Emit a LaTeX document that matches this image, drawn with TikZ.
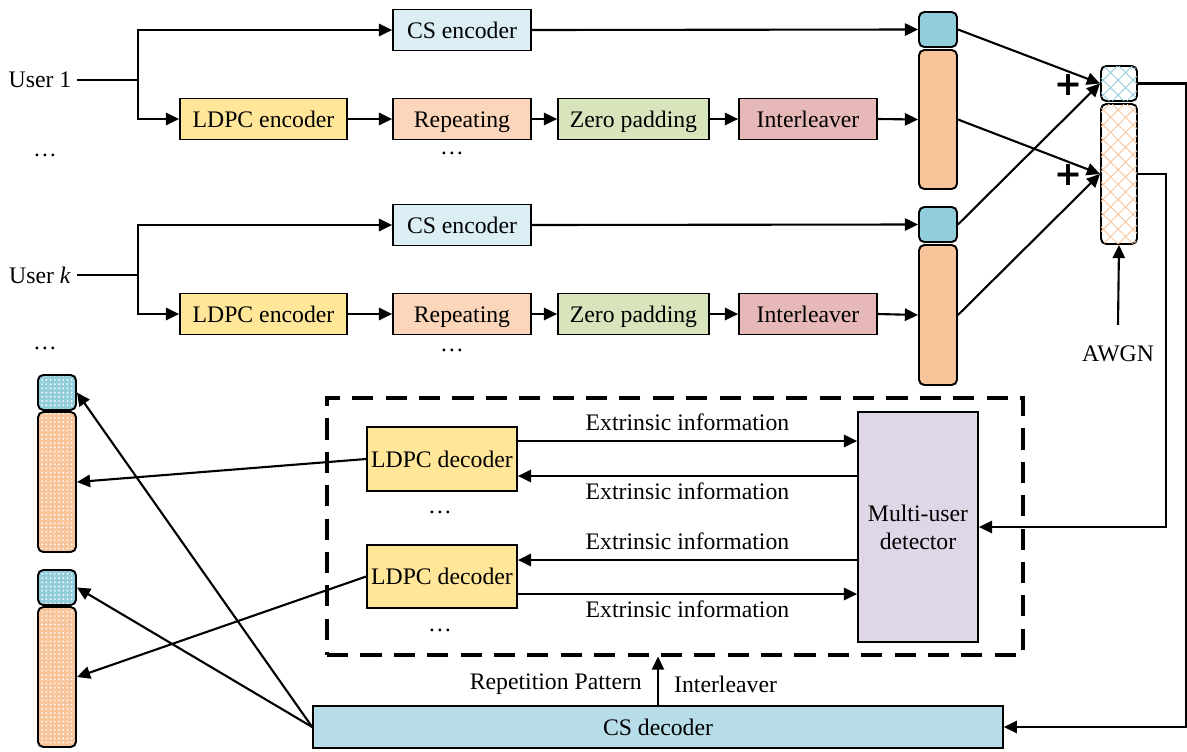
\documentclass[tikz,border=0pt]{standalone}
\usepackage{fontspec}
\setmainfont{Liberation Serif}
\newfontfamily\plusfont{DejaVu Sans}
\usetikzlibrary{arrows.meta,patterns.meta}

\definecolor{csenc}{HTML}{DAEEF3}
\definecolor{ldpcc}{HTML}{FFE699}
\definecolor{repc}{HTML}{FBD6BA}
\definecolor{zpc}{HTML}{D7E4BC}
\definecolor{ilc}{HTML}{E6B9B8}
\definecolor{symblue}{HTML}{92CDDC}
\definecolor{symor}{HTML}{F8C49A}
\definecolor{mudc}{HTML}{DFD7E7}
\definecolor{csdecc}{HTML}{B7DDE8}

\begin{document}
\begin{tikzpicture}[x=0.02cm,y=-0.02cm,
    font=\fontsize{13.5}{16}\selectfont,
    box/.style={draw,line width=1pt,inner sep=2pt},
    blk/.style={box,minimum height=0.82cm,text height=2.4ex,text depth=0.2ex},
    sym/.style={draw,line width=1.1pt,rounded corners=3pt,minimum width=0.76cm},
    dotfill/.style={preaction={fill=#1},pattern={Dots[distance=2.4pt,radius=0.55pt]},pattern color=white},
    hatchfill/.style={fill=white,postaction={pattern={Hatch[angle=45,distance=6pt,line width=0.5pt]},pattern color=#1}},
    arr/.style={line width=1.2pt,-{Triangle[length=7.5pt,width=7pt]}},
    ln/.style={line width=1.2pt},
    frame/.style={draw,line width=1.8pt,dash pattern=on 12pt off 7pt},
    plus/.style={font=\fontsize{19}{19}\plusfont\bfseries}]
  \useasboundingbox (0,0) rectangle (1187,751);

  % user 1
  \node (u1) at (40,80) {User 1};
  \coordinate (s1) at (138,80);
  \node[blk,fill=csenc,minimum width=2.76cm] (cs1) at (462,30) {CS encoder};
  \node[blk,fill=ldpcc,minimum width=3.34cm] (ldpc1) at (263.5,119) {LDPC encoder};
  \node[blk,fill=repc,minimum width=2.76cm] (rep1) at (462,119) {Repeating};
  \node[blk,fill=zpc,minimum width=3.02cm] (zp1) at (633.5,119) {Zero padding};
  \node[blk,fill=ilc,minimum width=2.76cm] (il1) at (808,119) {Interleaver};
  \node[sym,fill=symblue,minimum height=0.7cm] (bl1) at (938,29.5) {};
  \node[sym,fill=symor,minimum height=2.78cm] (or1) at (938,119.5) {};
  \node at (45,155) {\ldots};
  \node at (452,153) {\ldots};

  \draw[ln] (u1.east) -- (s1);
  \draw[arr] (s1) |- (cs1.west);
  \draw[arr] (s1) |- (ldpc1.west);
  \draw[arr] (ldpc1) -- (rep1);
  \draw[arr] (rep1) -- (zp1);
  \draw[arr] (zp1) -- (il1);
  \draw[arr] (il1.east) -- (or1.west);
  \draw[arr] (cs1.east) -- (bl1.west);

  % user k
  \node (uk) at (40,275) {User \textit{k}};
  \coordinate (sk) at (138,275);
  \node[blk,fill=csenc,minimum width=2.76cm] (csk) at (462,225) {CS encoder};
  \node[blk,fill=ldpcc,minimum width=3.34cm] (ldpck) at (263.5,314) {LDPC encoder};
  \node[blk,fill=repc,minimum width=2.76cm] (repk) at (462,314) {Repeating};
  \node[blk,fill=zpc,minimum width=3.02cm] (zpk) at (633.5,314) {Zero padding};
  \node[blk,fill=ilc,minimum width=2.76cm] (ilk) at (808,314) {Interleaver};
  \node[sym,fill=symblue,minimum height=0.7cm] (blk) at (938,224.5) {};
  \node[sym,fill=symor,minimum height=2.8cm] (ork) at (938,315) {};
  \node at (45,348) {\ldots};
  \node at (452,350) {\ldots};

  \draw[ln] (uk.east) -- (sk);
  \draw[arr] (sk) |- (csk.west);
  \draw[arr] (sk) |- (ldpck.west);
  \draw[arr] (ldpck) -- (repk);
  \draw[arr] (repk) -- (zpk);
  \draw[arr] (zpk) -- (ilk);
  \draw[arr] (ilk.east) -- (ork.west);
  \draw[arr] (csk.east) -- (blk.west);

  % channel
  \node[sym,hatchfill=symblue,minimum width=0.72cm,minimum height=0.7cm] (ctop) at (1119,83.5) {};
  \node[sym,hatchfill=symor,minimum width=0.72cm,minimum height=2.8cm] (cbot) at (1119,174) {};
  \node[plus] at (1068,85) {+};
  \node[plus] at (1068,175) {+};
  \draw[arr] (bl1.east) -- (ctop.west);
  \draw[arr] (blk.east) -- (ctop.west);
  \draw[arr] (or1.east) -- (cbot.west);
  \draw[arr] (ork.east) -- (cbot.west);
  \node (awgn) at (1118,354) {AWGN};
  \draw[arr] ([yshift=0.3cm]awgn.north) -- (cbot.south);

  % receiver
  \node[frame,minimum width=13.92cm,minimum height=5.14cm] (dbox) at (675,526.5) {};
  \node[box,fill=ldpcc,minimum width=3cm,minimum height=1.28cm] (dec1) at (442,459) {LDPC decoder};
  \node[box,fill=ldpcc,minimum width=3cm,minimum height=1.26cm] (dec2) at (442,576.5) {LDPC decoder};
  \node[box,fill=mudc,minimum width=2.4cm,minimum height=4.6cm,align=center] (mud) at (918,527) {Multi-user\\detector};
  \node at (440,512) {\ldots};
  \node at (440,630) {\ldots};
  \node[blk,fill=csdecc,minimum width=13.8cm,minimum height=0.84cm] (csdec) at (658,727) {CS decoder};

  \draw[arr] (dec1.east |- 0,441) -- (mud.west |- 0,441) node[midway,above=2pt] {Extrinsic information};
  \draw[arr] (mud.west |- 0,476) -- (dec1.east |- 0,476) node[midway,below] {Extrinsic information};
  \draw[arr] (mud.west |- 0,560) -- (dec2.east |- 0,560) node[midway,above=2pt] {Extrinsic information};
  \draw[arr] (dec2.east |- 0,594) -- (mud.west |- 0,594) node[midway,below] {Extrinsic information};

  \coordinate (rt1) at (1186,0);
  \coordinate (rt2) at (1166,0);
  \draw[arr] (ctop.east) -- (ctop.east -| rt1) |- (csdec.east);
  \draw[arr] (cbot.east) -- (cbot.east -| rt2) |- (mud.east);

  \draw[arr] (csdec.north) -- (csdec.north |- dbox.south);
  \node[anchor=east] at (648,684) {Repetition Pattern};
  \node[anchor=west] at (668,684) {Interleaver};

  % estimates
  \node[sym,dotfill=symblue,minimum height=0.7cm] (ob1) at (57,392.5) {};
  \node[sym,dotfill=symor,minimum height=2.8cm] (oo1) at (57,482) {};
  \node[sym,dotfill=symblue,minimum height=0.7cm] (ob2) at (57,587.5) {};
  \node[sym,dotfill=symor,minimum height=2.8cm] (oo2) at (57,677) {};
  \draw[arr] (dec1.west) -- (oo1.east);
  \draw[arr] (dec2.west) -- (oo2.east);
  \draw[arr] (csdec.west) -- (ob1.east);
  \draw[arr] (csdec.west) -- (ob2.east);
\end{tikzpicture}
\end{document}
